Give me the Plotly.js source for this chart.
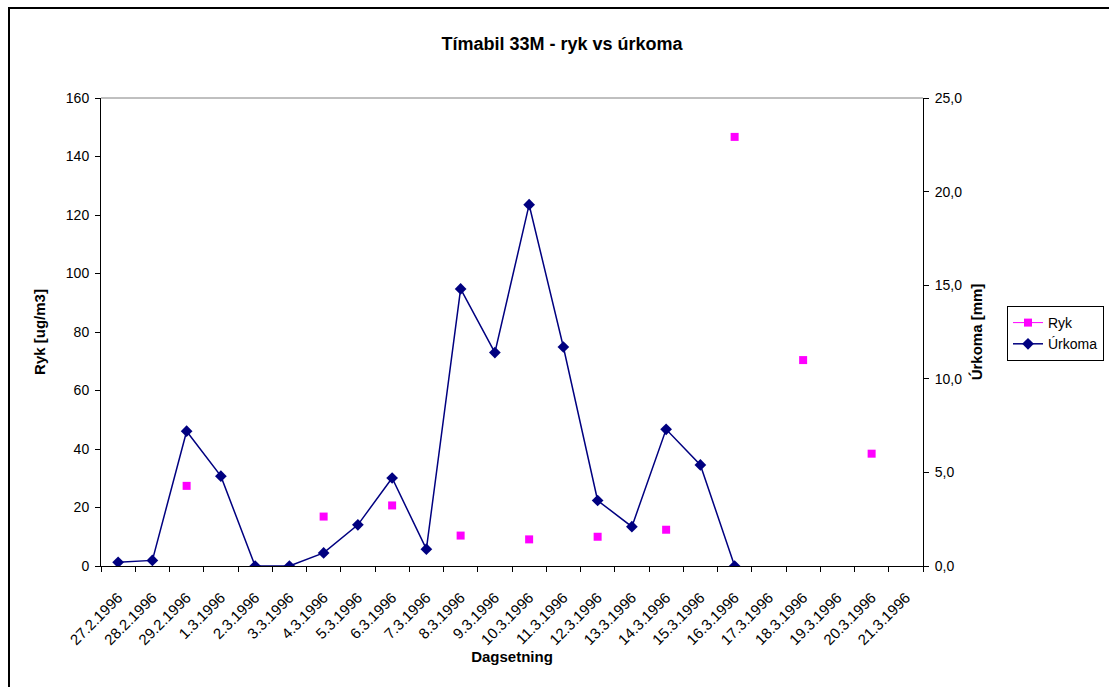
<!DOCTYPE html>
<html>
<head>
<meta charset="utf-8">
<script src="https://cdn.plot.ly/plotly-3.0.1.min.js"></script>
<style>
  html, body { margin: 0; padding: 0; overflow: hidden; background: #fff; }
  #chart { width: 1109px; height: 687px; }
  #frame { position: absolute; left: 8px; top: 7px; width: 1200px; height: 800px;
           border: 2px solid #000; pointer-events: none; }
</style>
</head>
<body>
<div id="chart"></div>
<div id="frame"></div>
<script>
const categories = ["27.2.1996","28.2.1996","29.2.1996","1.3.1996","2.3.1996","3.3.1996","4.3.1996","5.3.1996","6.3.1996","7.3.1996","8.3.1996","9.3.1996","10.3.1996","11.3.1996","12.3.1996","13.3.1996","14.3.1996","15.3.1996","16.3.1996","17.3.1996","18.3.1996","19.3.1996","20.3.1996","21.3.1996"];
const ryk = [null,null,27.4,null,null,null,16.9,null,20.7,null,10.4,null,9.1,null,10.0,null,12.4,null,146.7,null,70.4,null,38.4,null];
const urkoma = [0.2,0.3,7.2,4.8,0.0,0.0,0.7,2.2,4.7,0.9,14.8,11.4,19.3,11.7,3.5,2.1,7.3,5.4,0.0,null,null,null,null,null];

const FONT = "Liberation Sans, Arial, sans-serif";

const traces = [
  {
    x: categories, y: ryk, name: "Ryk", type: "scatter", mode: "lines+markers",
    connectgaps: false, yaxis: "y",
    line: { color: "#FF00FF", width: 1 },
    marker: { symbol: "square", size: 8, color: "#FF00FF" }
  },
  {
    x: categories, y: urkoma, name: "Úrkoma", type: "scatter", mode: "lines+markers",
    connectgaps: false, yaxis: "y2",
    line: { color: "#000080", width: 1.5 },
    marker: { symbol: "diamond", size: 9, color: "#000080" }
  }
];

const layout = {
  width: 1109, height: 687,
  margin: { l: 101, r: 186, t: 98, b: 121, autoexpand: false },
  paper_bgcolor: "rgba(0,0,0,0)", plot_bgcolor: "#fff",
  separators: ",.",
  font: { family: FONT, size: 14, color: "#000" },
  title: { text: "<b>Tímabil 33M - ryk vs úrkoma</b>", font: { family: FONT, size: 18, color: "#000" },
           xref: "container", x: 562/1109, xanchor: "center",
           yref: "container", y: 1 - 44/687, yanchor: "middle" },
  showlegend: true,
  legend: { xref: "container", x: 1007/1109, xanchor: "left",
            yref: "container", y: 1 - 306/687, yanchor: "top",
            bordercolor: "#000", borderwidth: 1, bgcolor: "#fff",
            font: { family: FONT, size: 14, color: "#000" }, tracegroupgap: 0,
            itemwidth: 30 },
  xaxis: {
    type: "category", tickson: "boundaries", ticks: "outside", ticklen: 5, tickcolor: "#000",
    tickangle: -45, showgrid: false, zeroline: false, showline: true, linecolor: "#000", linewidth: 1,
    range: [-0.5, 23.5], tickfont: { family: FONT, size: 15, color: "#000" }, ticklabelstandoff: 16,
    automargin: false,
    title: { text: "<b>Dagsetning</b>", font: { family: FONT, size: 15 }, standoff: 0 }
  },
  yaxis: {
    range: [0, 160], dtick: 20, ticks: "outside", ticklen: 5, tickcolor: "#000",
    showgrid: false, zeroline: false, showline: true, linecolor: "#000", linewidth: 1,
    tickfont: { family: FONT, size: 14, color: "#000" }, ticklabelstandoff: 3, automargin: false,
    title: { text: "<b>Ryk [ug/m3]</b>", font: { family: FONT, size: 15 }, standoff: 16 }
  },
  yaxis2: {
    overlaying: "y", side: "right", range: [0, 25], dtick: 5, tickformat: ".1f",
    ticks: "outside", ticklen: 5, tickcolor: "#000",
    showgrid: false, zeroline: false, showline: true, linecolor: "#000", linewidth: 1,
    tickfont: { family: FONT, size: 14, color: "#000" }, ticklabelstandoff: 3, automargin: false,
    title: { text: "<b>Úrkoma [mm]</b>", font: { family: FONT, size: 15 }, standoff: 10 }
  },
  shapes: [
    { type: "line", xref: "paper", yref: "paper", x0: 0, x1: 1, y0: 1, y1: 1,
      line: { color: "#808080", width: 1 } }
  ]
};

Plotly.newPlot("chart", traces, layout, { displayModeBar: false, staticPlot: true });
</script>
</body>
</html>
